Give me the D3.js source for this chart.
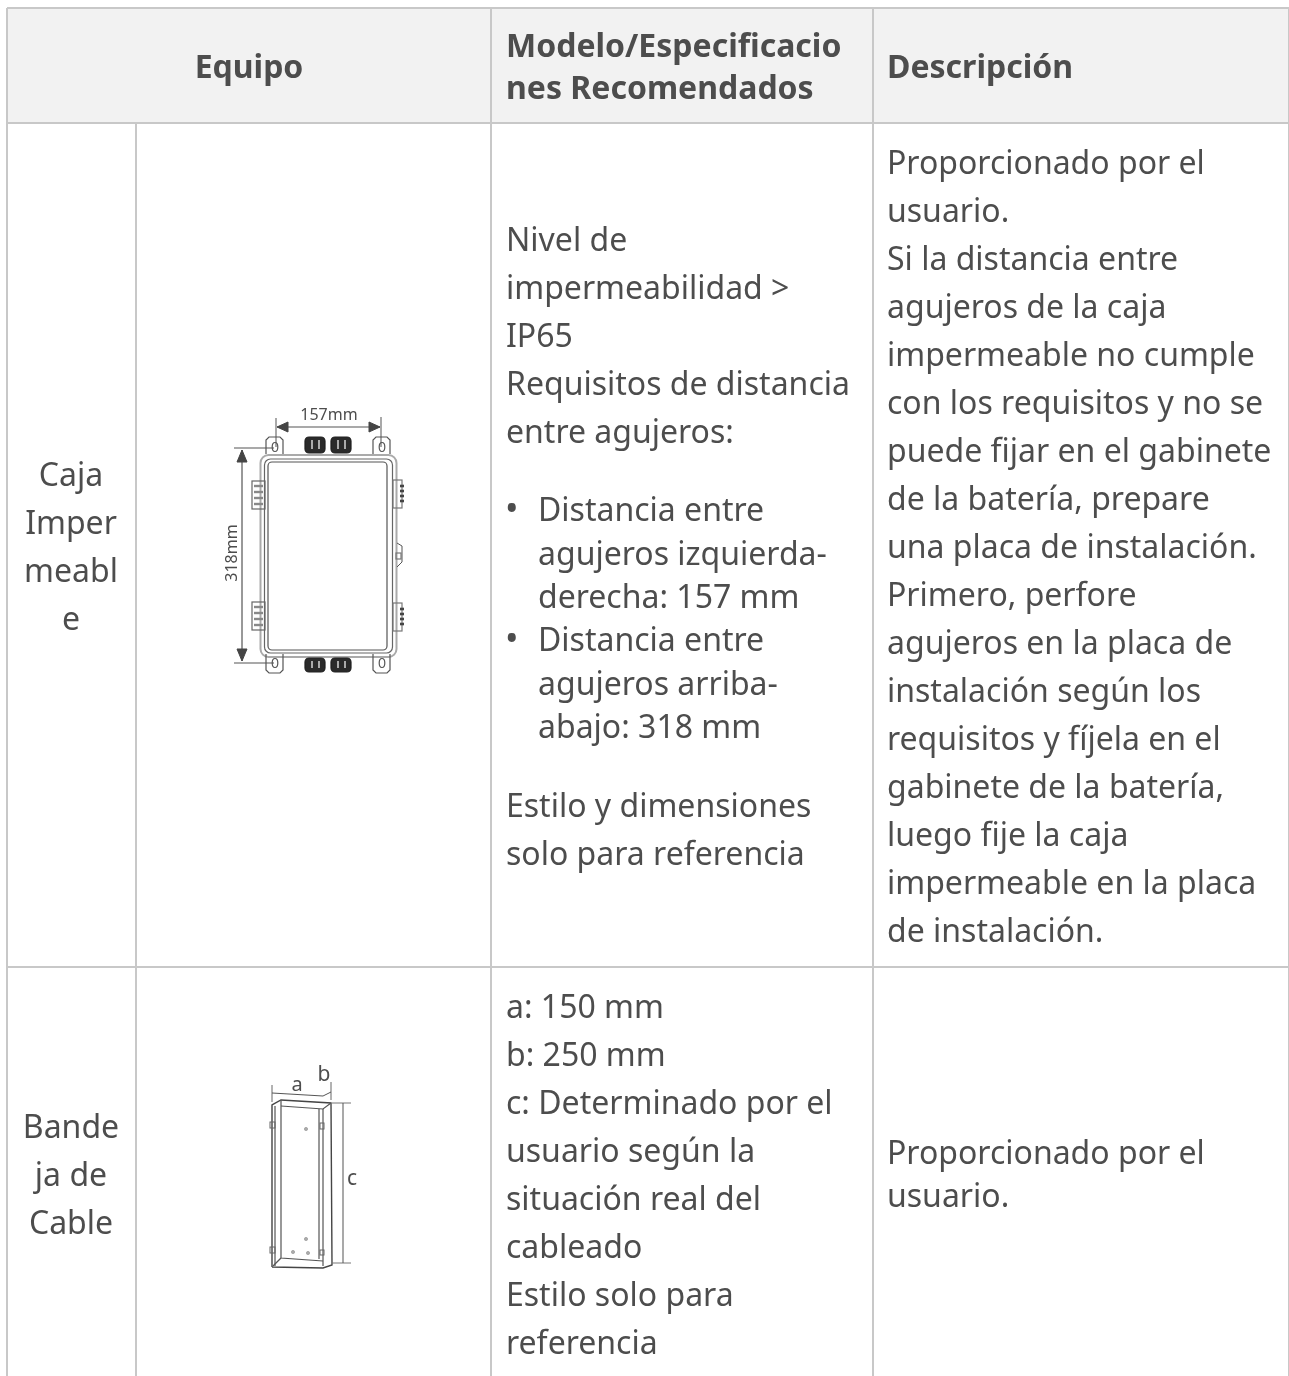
<!DOCTYPE html>
<html>
<head>
<meta charset="utf-8">
<script src="https://cdn.jsdelivr.net/npm/d3@7"></script>
<style>
  html, body { margin: 0; padding: 0; background: #fff; overflow: hidden; }
  svg { display: block; }
  text { font-family: "Noto Sans", sans-serif; fill: #4d4d4d; }
</style>
</head>
<body>
<div id="chart"></div>
<script>
// table content
var headers = ["Equipo", ["Modelo/Especificacio", "nes Recomendados"], "Descripción"];
var cajaName = ["Caja", "Imper", "meabl", "e"];
var bandejaName = ["Bande", "ja de", "Cable"];
var cajaSpec = ["Nivel de", "impermeabilidad >", "IP65", "Requisitos de distancia", "entre agujeros:"];
var cajaBullets = [["Distancia entre", "agujeros izquierda-", "derecha: 157 mm"], ["Distancia entre", "agujeros arriba-", "abajo: 318 mm"]];
var cajaNote = ["Estilo y dimensiones", "solo para referencia"];
var cajaDesc = ["Proporcionado por el", "usuario.", "Si la distancia entre", "agujeros de la caja", "impermeable no cumple", "con los requisitos y no se", "puede fijar en el gabinete", "de la batería, prepare", "una placa de instalación.", "Primero, perfore", "agujeros en la placa de", "instalación según los", "requisitos y fíjela en el", "gabinete de la batería,", "luego fije la caja", "impermeable en la placa", "de instalación."];
var bandejaSpec = ["a: 150 mm", "b: 250 mm", "c: Determinado por el", "usuario según la", "situación real del", "cableado", "Estilo solo para", "referencia"];
var bandejaDesc = ["Proporcionado por el", "usuario."];

var width = 1289, height = 1376;
var colX = [7, 136, 491, 873, 1288];
var rowY = [8, 123, 967, 1376];
var border = "#c8c8c8";

var svg = d3.select("#chart").append("svg").attr("width", width).attr("height", height);

var defs = svg.append("defs");
defs.append("filter").attr("id", "soft").append("feGaussianBlur").attr("stdDeviation", 0.5);
defs.append("filter").attr("id", "textsoft").append("feGaussianBlur").attr("stdDeviation", 0.3);

// header band
svg.append("rect").attr("x", colX[0]).attr("y", rowY[0])
  .attr("width", width - colX[0]).attr("height", rowY[1] - rowY[0]).attr("fill", "#f2f2f2");

// grid
var gridLines = [
  [colX[0], rowY[0], width, rowY[0]], [colX[0], rowY[1], width, rowY[1]], [colX[0], rowY[2], width, rowY[2]],
  [colX[0], rowY[0], colX[0], height], [colX[1], rowY[1], colX[1], height],
  [colX[2], rowY[0], colX[2], height], [colX[3], rowY[0], colX[3], height], [colX[4] + 0.5, rowY[0], colX[4] + 0.5, height]
];
svg.selectAll("line.grid").data(gridLines).enter().append("line")
  .attr("class", "grid")
  .attr("x1", function(d) { return d[0]; }).attr("y1", function(d) { return d[1]; })
  .attr("x2", function(d) { return d[2]; }).attr("y2", function(d) { return d[3]; })
  .attr("stroke", border).attr("stroke-width", function(d, i) { return i == 7 ? 1 : 2; });

// writes lines of text, first baseline at y
var textLayer = svg.append("g").attr("filter", "url(#textsoft)");
function block(lines, x, y, step, opts) {
  opts = opts || {};
  textLayer.append("g").selectAll("text").data(lines).enter().append("text")
    .attr("x", x)
    .attr("y", function(d, i) { return y + i * step; })
    .attr("text-anchor", opts.anchor || "start")
    .attr("font-size", opts.size || 32)
    .attr("font-weight", opts.weight || 400)
    .text(function(d) { return d; });
}

// header
block([headers[0]], 249, 78, 0, {anchor: "middle", weight: 700});
block(headers[1], 506, 57, 42, {weight: 700});
block([headers[2]], 887, 78, 0, {weight: 700});

// first column
block(cajaName, 71, 486, 48, {anchor: "middle"});
block(bandejaName, 71, 1138, 48, {anchor: "middle"});

// spec column
block(cajaSpec, 506, 251, 48);
block(cajaBullets[0], 538, 521, 43.5);
block(cajaBullets[1], 538, 651, 43.5);
block(["•"], 505, 521, 0, {size: 36});
block(["•"], 505, 651, 0, {size: 36});
block(cajaNote, 506, 817, 48);
block(bandejaSpec, 506, 1018, 48);

// description column
block(cajaDesc, 887, 174, 48);
block(bandejaDesc, 887, 1164, 43);

// waterproof box sketch
var box = svg.append("g").attr("filter", "url(#soft)").attr("fill", "none").attr("stroke", "#555").attr("stroke-width", 1.2);
function bx(x, y, w, h, r, o) {
  var n = box.append("rect").attr("x", x).attr("y", y).attr("width", w).attr("height", h).attr("rx", r || 0);
  if (o) n.attr("stroke", o.stroke || "#555").attr("fill", o.fill || "none");
  if (o && o.width) n.attr("stroke-width", o.width);
  return n;
}
function seg(g, pts, w, c) {
  return g.append("path").attr("d", d3.line()(pts)).attr("stroke-width", w || 1.2).attr("stroke", c || "#555");
}
// body outlines
bx(260.5, 455, 136, 202, 8, {stroke: "#aaa", width: 2});
bx(264.5, 459, 128, 194, 6, {stroke: "#666"});
bx(268, 462, 119, 188, 4, {stroke: "#555"});
// corner ears
[[266, 437], [373, 437], [266, 654], [373, 654]].forEach(function(p, i) {
  var top = i < 2;
  var pts = top
    ? [[p[0], p[1] + 17], [p[0], p[1] + 3], [p[0] + 3, p[1]], [p[0] + 14, p[1]], [p[0] + 17, p[1] + 3], [p[0] + 17, p[1] + 17]]
    : [[p[0], p[1]], [p[0], p[1] + 16], [p[0] + 3, p[1] + 19], [p[0] + 14, p[1] + 19], [p[0] + 17, p[1] + 16], [p[0] + 17, p[1]]];
  seg(box, pts);
  box.append("ellipse").attr("cx", p[0] + 9).attr("cy", p[1] + (top ? 10 : 9)).attr("rx", 2.8).attr("ry", 4.5);
});
// cable glands
[[305, 437, 20, 16], [331, 437, 20, 16], [305, 658, 20, 14], [331, 658, 20, 14]].forEach(function(g) {
  bx(g[0], g[1], g[2], g[3], 4, {stroke: "#222", fill: "#2a2a2a"});
  seg(box, [[g[0] + 7, g[1] + 3], [g[0] + 7, g[1] + g[3] - 4]], 2, "#aaa");
  seg(box, [[g[0] + 14, g[1] + 3], [g[0] + 14, g[1] + g[3] - 4]], 2, "#aaa");
});
// side terminals
[[252, 481], [252, 602]].forEach(function(t) {
  bx(t[0], t[1], 13, 28, 0, {stroke: "#666"});
  [5, 11, 17, 23].forEach(function(d) {
    seg(box, [[t[0] + 2, t[1] + d], [t[0] + 11, t[1] + d]], 2.4, "#888");
  });
});
[[393, 480], [393, 603]].forEach(function(t) {
  bx(t[0], t[1], 9, 28, 0, {stroke: "#777"});
  [6, 11, 16, 21].forEach(function(d) {
    seg(box, [[t[0] + 7, t[1] + d], [t[0] + 11, t[1] + d]], 2.6, "#444");
  });
});
seg(box, [[397, 543], [402, 546], [402, 562], [397, 567]], 1);
bx(396, 553, 5, 6, 0, {stroke: "#777"});

// dimensions
var dim = svg.append("g").attr("filter", "url(#soft)").attr("fill", "#444").attr("stroke", "#444");
function dimText(sel, s, x, y, rot, size) {
  sel.append("text").attr("transform", "translate(" + x + "," + y + ")" + (rot ? " rotate(-90)" : ""))
    .attr("text-anchor", "middle").attr("font-size", size).attr("stroke", "none").text(s);
}
seg(dim, [[276, 418], [276, 447]], 1);
seg(dim, [[381, 417], [381, 447]], 1);
seg(dim, [[277, 427], [380, 427]], 1.2);
seg(dim, [[234, 448], [274, 448]], 1);
seg(dim, [[234, 663], [274, 663]], 1);
seg(dim, [[242, 450], [242, 661]], 1.2);
dim.append("path").attr("d", d3.line()([[277, 427], [288, 422], [288, 432], [277, 427]]));
dim.append("path").attr("d", d3.line()([[380, 427], [369, 422], [369, 432], [380, 427]]));
dim.append("path").attr("d", d3.line()([[242, 450], [237, 462], [247, 462], [242, 450]]));
dim.append("path").attr("d", d3.line()([[242, 661], [237, 649], [247, 649], [242, 661]]));
dimText(dim, "157mm", 329, 420, false, 16);
dimText(dim, "318mm", 237, 553, true, 16);

// cable tray sketch
var tray = svg.append("g").attr("filter", "url(#soft)").attr("fill", "none").attr("stroke", "#aaa").attr("stroke-width", 1);
seg(tray, [[272, 1267], [272, 1105], [281, 1100], [331, 1103], [332, 1265], [323, 1268], [272, 1267]], 1.4, "#444");
seg(tray, [[281, 1100], [281, 1258], [323, 1261]]);
seg(tray, [[275, 1106], [275, 1266]]);
seg(tray, [[319, 1109], [319, 1259]]);
seg(tray, [[323, 1109], [323, 1266]]);
seg(tray, [[331, 1103], [323, 1109], [281, 1106]]);
seg(tray, [[281, 1258], [273, 1266]]);
[[270, 1122, 5, 6], [270, 1247, 5, 6], [320, 1123, 4, 6], [320, 1250, 4, 5]].forEach(function(h) {
  tray.append("rect").attr("x", h[0]).attr("y", h[1]).attr("width", h[2]).attr("height", h[3]).attr("stroke", "#666");
});
[[306, 1129], [306, 1239], [293, 1252], [308, 1253]].forEach(function(h) {
  tray.append("circle").attr("cx", h[0]).attr("cy", h[1]).attr("r", 1.6).attr("fill", "#aaa");
});
seg(tray, [[272, 1085], [272, 1102]], 1, "#666");
seg(tray, [[331, 1082], [331, 1100]], 1, "#666");
seg(tray, [[272, 1093], [323, 1096], [331, 1092]], 1, "#555");
seg(tray, [[332, 1103], [351, 1103]], 1, "#777");
seg(tray, [[332, 1263], [351, 1263]], 1, "#777");
seg(tray, [[343, 1103], [343, 1263]], 1, "#555");
var trayText = svg.append("g").attr("filter", "url(#soft)");
dimText(trayText, "a", 297, 1091, false, 20);
dimText(trayText, "b", 324, 1081, false, 21);
dimText(trayText, "c", 352, 1185, false, 21);
</script>
</body>
</html>
